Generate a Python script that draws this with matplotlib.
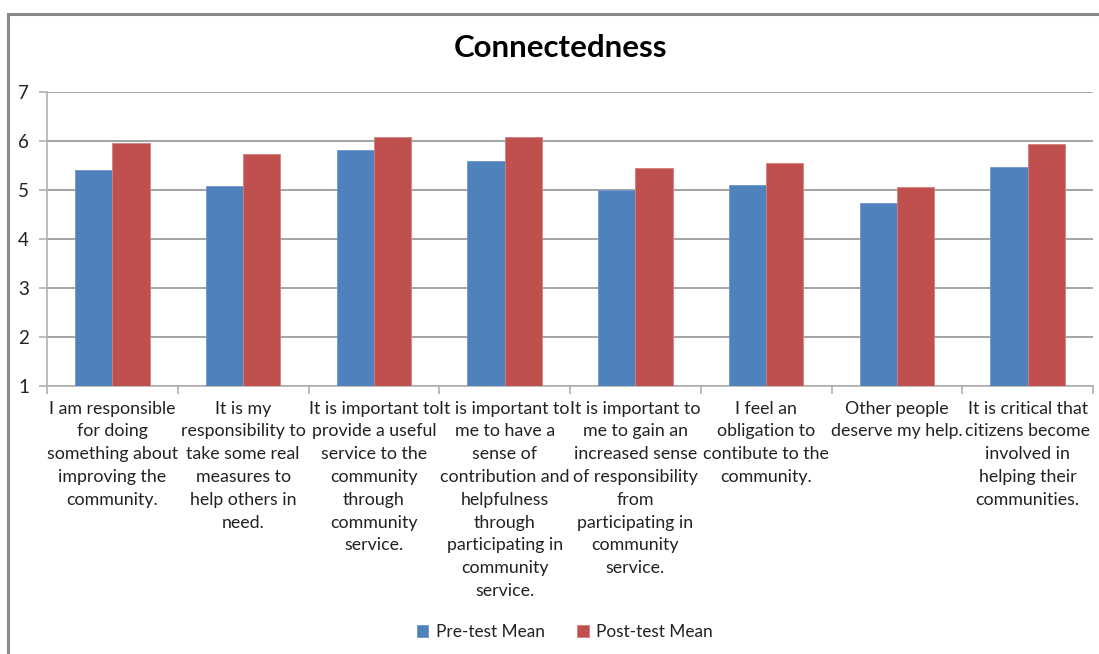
import matplotlib
matplotlib.use("Agg")
import matplotlib.pyplot as plt
import numpy as np
from matplotlib.patches import Rectangle

plt.rcParams['font.family'] = ['Lato', 'DejaVu Sans']

# survey statements (wrapped as in the report)
labels = [
    "I am responsible\nfor doing\nsomething about\nimproving the\ncommunity.",
    "It is my\nresponsibility to\ntake some real\nmeasures to\nhelp others in\nneed.",
    "It is important to\nprovide a useful\nservice to the\ncommunity\nthrough\ncommunity\nservice.",
    "It is important to\nme to have a\nsense of\ncontribution and\nhelpfulness\nthrough\nparticipating in\ncommunity\nservice.",
    "It is important to\nme to gain an\nincreased sense\nof responsibility\nfrom\nparticipating in\ncommunity\nservice.",
    "I feel an\nobligation to\ncontibute to the\ncommunity.",
    "Other people\ndeserve my help.",
    "It is critical that\ncitizens become\ninvolved in\nhelping their\ncommunities.",
]
pre_mean = [5.40, 5.09, 5.81, 5.60, 5.00, 5.10, 4.73, 5.46]
post_mean = [5.96, 5.74, 6.08, 6.08, 5.45, 5.56, 5.06, 5.93]

blue = "#4F81BD"
red = "#C0504D"
grey = "#8C8C8C"

fig = plt.figure(figsize=(10.99, 6.54), dpi=100)
ax = fig.add_axes([47/1099, 1 - 386/654, (1093-47)/1099, (386-92)/654])

x = np.arange(len(labels))
w = 1 / 3.5
b1 = ax.bar(x - w/2, np.array(pre_mean) - 1, w, bottom=1, color=blue,
            edgecolor="#6F97CC", linewidth=0.6, label="Pre-test Mean", zorder=3)
b2 = ax.bar(x + w/2, np.array(post_mean) - 1, w, bottom=1, color=red,
            edgecolor="#D47F7D", linewidth=0.6, label="Post-test Mean", zorder=3)

ax.set_xlim(-0.5, len(labels) - 0.5)
ax.set_ylim(1, 7)
ax.set_yticks(range(1, 8))
ax.yaxis.grid(True, color=grey, linewidth=1.1, zorder=0)
ax.set_axisbelow(True)

for s in ["top", "right"]:
    ax.spines[s].set_visible(False)
ax.spines["left"].set_color("#B0B0B0")
ax.spines["bottom"].set_color("#B0B0B0")
ax.spines["left"].set_linewidth(1.2)
ax.spines["bottom"].set_linewidth(1.2)

# category boundary ticks below the axis
ax.set_xticks(np.arange(-0.5, len(labels)), minor=False)
ax.set_xticklabels([])
ax.tick_params(axis="x", length=6, color="#B0B0B0", width=1.2)
ax.tick_params(axis="y", length=6, color="#B0B0B0", width=1.2,
               labelsize=13.5, pad=7, labelcolor="#222222")

for i, lab in enumerate(labels):
    ax.text(i, -0.05, lab, transform=ax.get_xaxis_transform(), ha="center",
            va="top", fontsize=12.8, linespacing=1.52, color="#222222")

fig.text(0.51, 1 - 48/654, "Connectedness", ha="center", va="center",
         fontsize=22.5, fontweight="bold", color="black")

fig.legend(handles=[b1, b2], loc="center", bbox_to_anchor=(0.514, 1 - 632/654),
           ncol=2, frameon=False, fontsize=12.4, handlelength=0.65,
           handleheight=0.65, columnspacing=1.9, handletextpad=0.45,
           labelcolor="#222222")

# chart frame
fig.add_artist(Rectangle((8/1099, -0.5), 1.5, 1.5 - 14/654,
                         transform=fig.transFigure, fill=False,
                         edgecolor="#8A8A8A", linewidth=2.2))

fig.savefig("out.png", dpi=100)
